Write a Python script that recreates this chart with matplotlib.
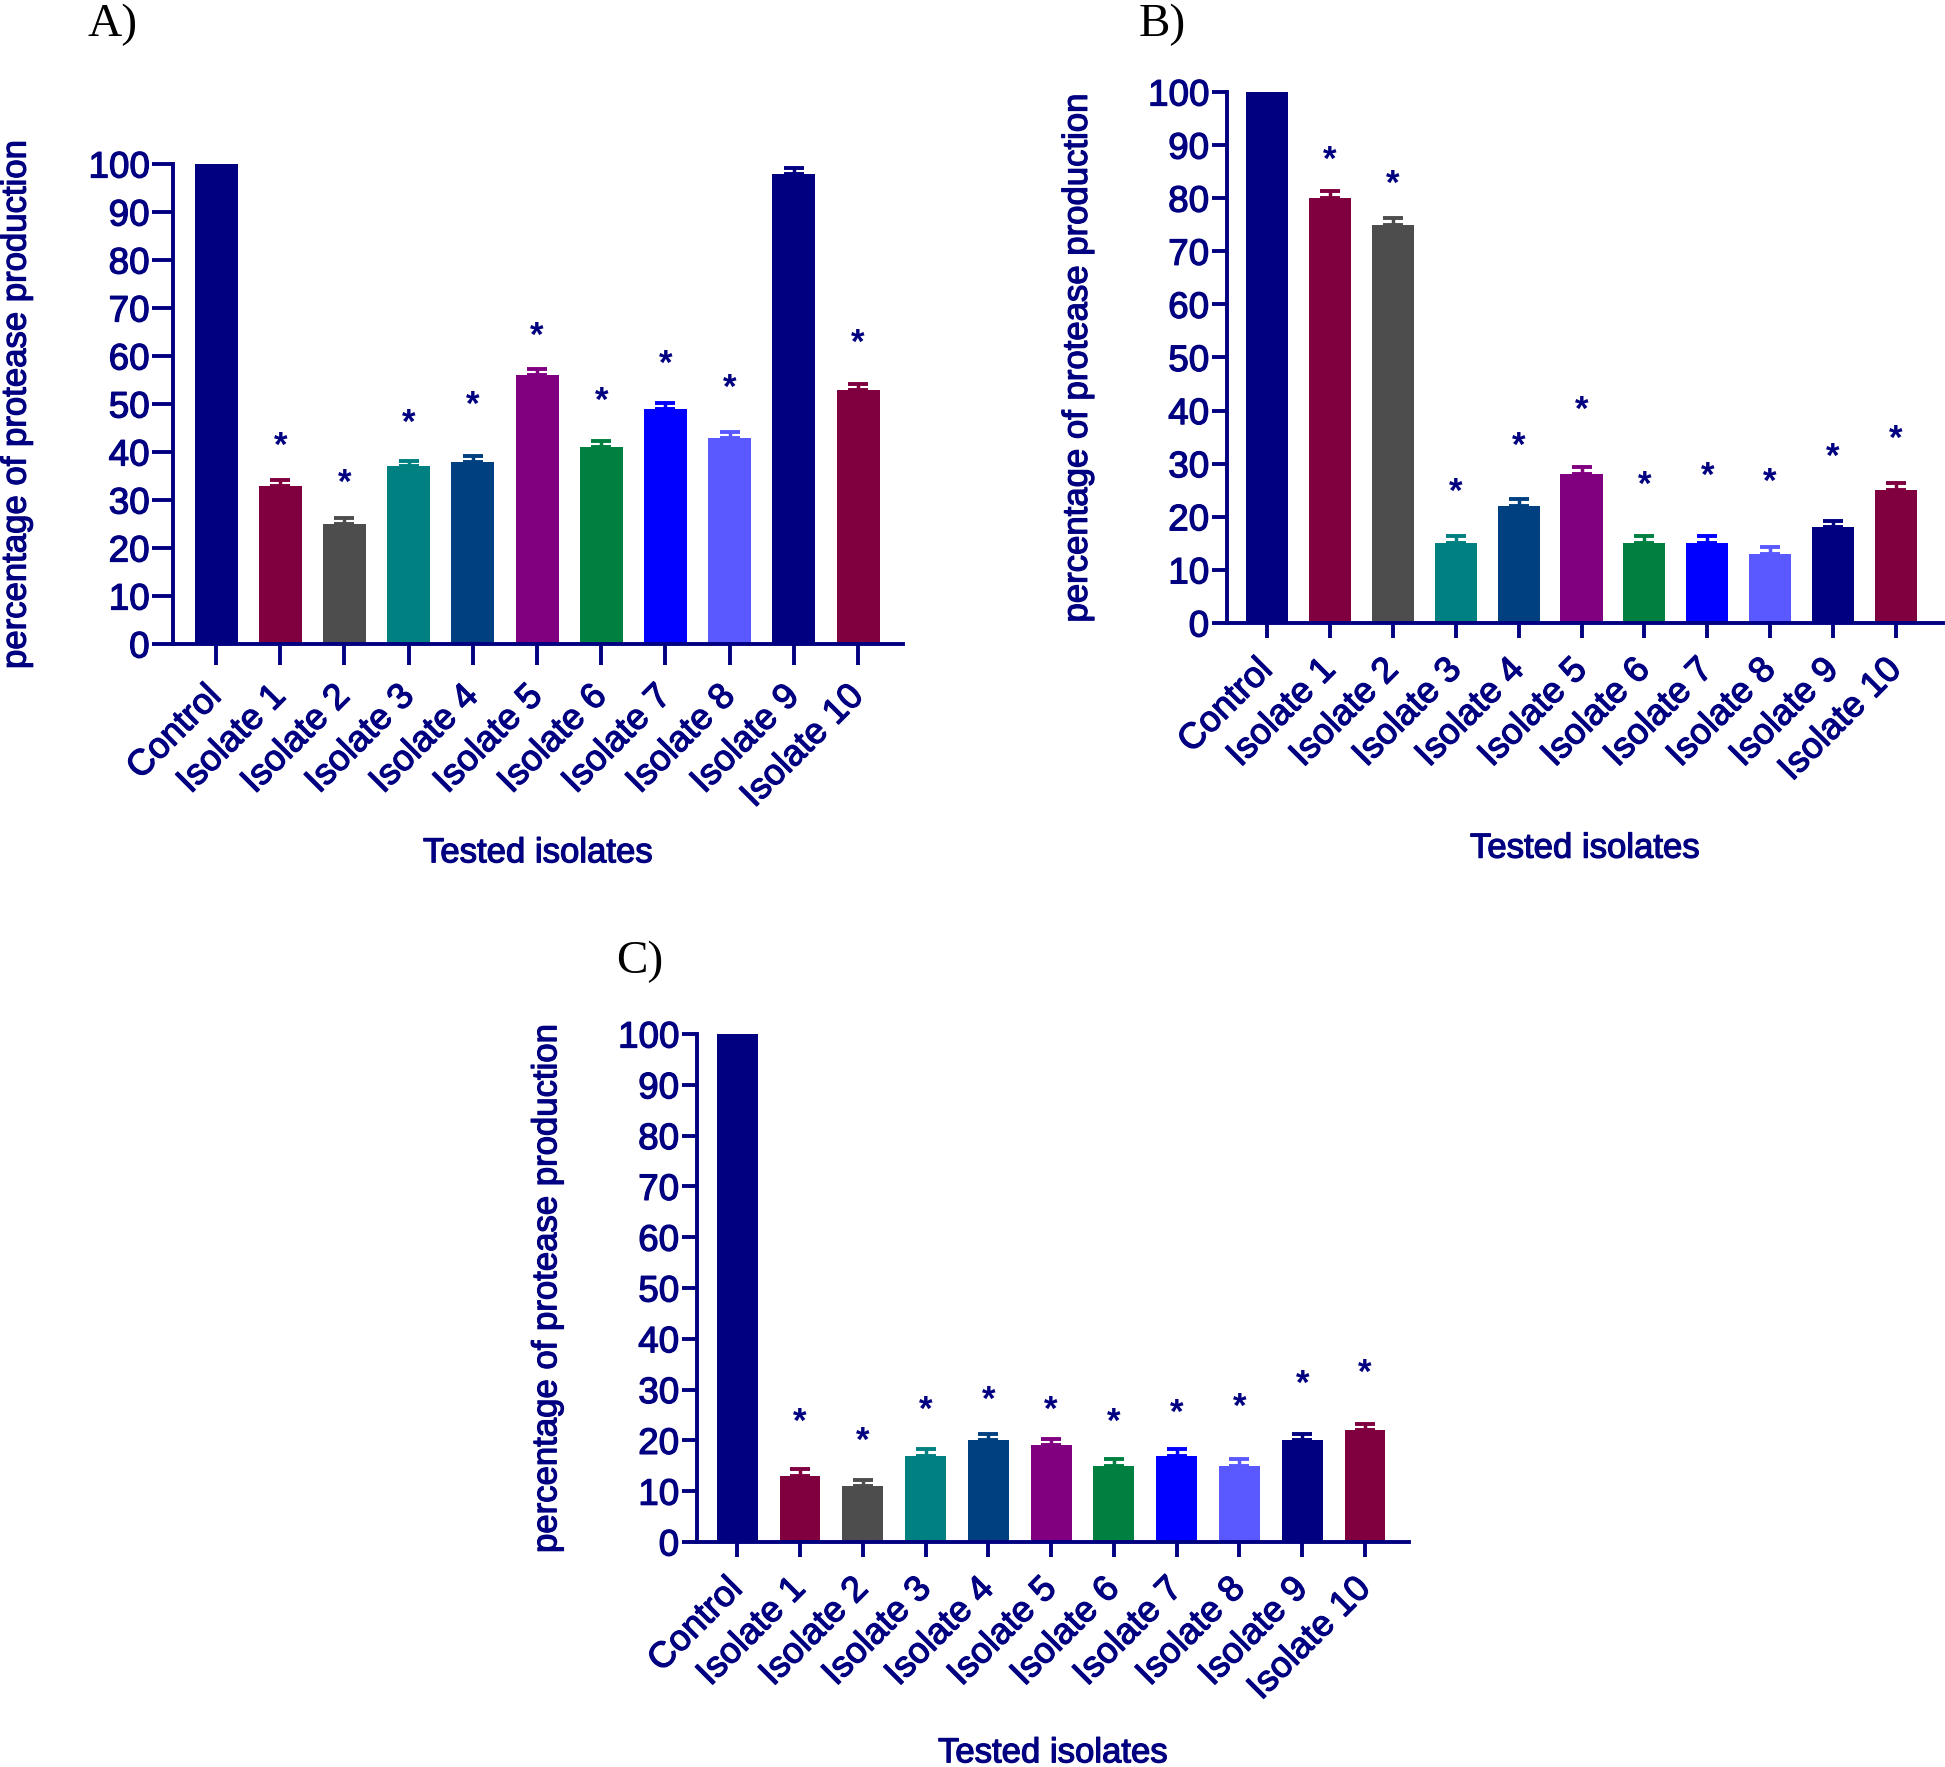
import matplotlib
matplotlib.use("Agg")
import matplotlib.pyplot as plt
import matplotlib.patheffects as pe

plt.rcParams['font.family'] = ['Liberation Sans', 'DejaVu Sans']

categories = ['Control', 'Isolate 1', 'Isolate 2', 'Isolate 3', 'Isolate 4', 'Isolate 5',
              'Isolate 6', 'Isolate 7', 'Isolate 8', 'Isolate 9', 'Isolate 10']
bar_colors = ['#000080', '#80003F', '#4D4D4D', '#008080', '#004080', '#800080',
              '#008040', '#0000FF', '#5959FF', '#000080', '#80003F']

# panel A
values_a = [100, 33, 25, 37, 38, 56, 41, 49, 43, 98, 53]
errors_a = [0, 1.2, 1.2, 1.2, 1.2, 1.2, 1.2, 1.2, 1.2, 1.2, 1.2]
stars_a = [None, 41.2, 33.4, 45.9, 49.8, 64.0, 50.6, 58.2, 53.3, None, 62.6]

# panel B
values_b = [100, 80, 75, 15, 22, 28, 15, 15, 13, 18, 25]
errors_b = [0, 1.3, 1.3, 1.3, 1.3, 1.3, 1.3, 1.3, 1.3, 1.3, 1.3]
stars_b = [None, 87.1, 82.6, 24.6, 33.3, 40.1, 25.9, 27.7, 26.4, 31.2, 34.6]

# panel C
values_c = [100, 13, 11, 17, 20, 19, 15, 17, 15, 20, 22]
errors_c = [0, 1.4, 1.3, 1.3, 1.3, 1.3, 1.3, 1.3, 1.3, 1.3, 1.3]
stars_c = [None, 23.6, 19.9, 26.0, 27.9, 26.0, 23.6, 25.3, 26.6, 31.1, 33.2]

NAVY = '#000080'
W, H = 1945, 1767
thick = [pe.withStroke(linewidth=0.9, foreground=NAVY)]

fig = plt.figure(figsize=(W / 100, H / 100), dpi=100)


def px_axes(left, top, right, bottom):
    return fig.add_axes([left / W, 1 - bottom / H, (right - left) / W, (bottom - top) / H])


def draw_panel(ax, values, errors, stars, xlim, ticklen, barw, ylab_x, xlab_y):
    x = list(range(len(categories)))
    for i in x:
        ax.bar(i, values[i], width=barw, color=bar_colors[i], zorder=2)
        if errors[i] > 0:
            ax.errorbar(i, values[i], yerr=[[0], [errors[i]]], fmt='none',
                        ecolor=bar_colors[i], elinewidth=2.5, capsize=7, capthick=2.8, zorder=3)
        if stars[i] is not None:
            ax.text(i, stars[i], '*', ha='center', va='center', fontsize=25,
                    fontweight='bold', color=NAVY)
    ax.set_xlim(*xlim)
    ax.set_ylim(0, 100)
    ax.set_yticks(range(0, 101, 10))
    ax.set_xticks(x)
    ax.set_xticklabels(categories, rotation=45, ha='right', va='center',
                       rotation_mode='anchor', fontsize=26, color=NAVY)
    for lab in ax.get_xticklabels():
        lab.set_path_effects(thick)
    for lab in ax.get_yticklabels():
        lab.set_fontsize(26.5)
        lab.set_color(NAVY)
        lab.set_path_effects(thick)
    ax.tick_params(axis='both', direction='out', length=ticklen, width=2.8,
                   color=NAVY, pad=2)
    ax.tick_params(axis='x', pad=19)
    for s in ['top', 'right']:
        ax.spines[s].set_visible(False)
    for s in ['left', 'bottom']:
        ax.spines[s].set_color(NAVY)
        ax.spines[s].set_linewidth(2.8)
    ax.text(ylab_x, 0.5, 'percentage of protease production', rotation=90,
            ha='center', va='center', fontsize=25, color=NAVY, transform=ax.transAxes,
            path_effects=thick)
    ax.text(0.5, xlab_y, 'Tested isolates', ha='center', va='center',
            fontsize=25, color=NAVY, transform=ax.transAxes, path_effects=thick)


ax_a = px_axes(173, 164, 903, 644)
draw_panel(ax_a, values_a, errors_a, stars_a, (-0.67, 10.70), 15, 0.67, -0.215, -0.435)

ax_b = px_axes(1227, 92, 1943, 623)
draw_panel(ax_b, values_b, errors_b, stars_b, (-0.64, 10.75), 11, 0.67, -0.209, -0.424)

ax_c = px_axes(697, 1034, 1409, 1542)
draw_panel(ax_c, values_c, errors_c, stars_c, (-0.64, 10.70), 11, 0.65, -0.211, -0.415)

fig.text(87 / W, 1 - 25 / H, 'A)', family='Liberation Serif', fontsize=34, ha='left', va='center')
fig.text(1139 / W, 1 - 25 / H, 'B)', family='Liberation Serif', fontsize=34, ha='left', va='center')
fig.text(616 / W, 1 - 962 / H, 'C)', family='Liberation Serif', fontsize=34, ha='left', va='center')

fig.savefig('out.png', dpi=100)
